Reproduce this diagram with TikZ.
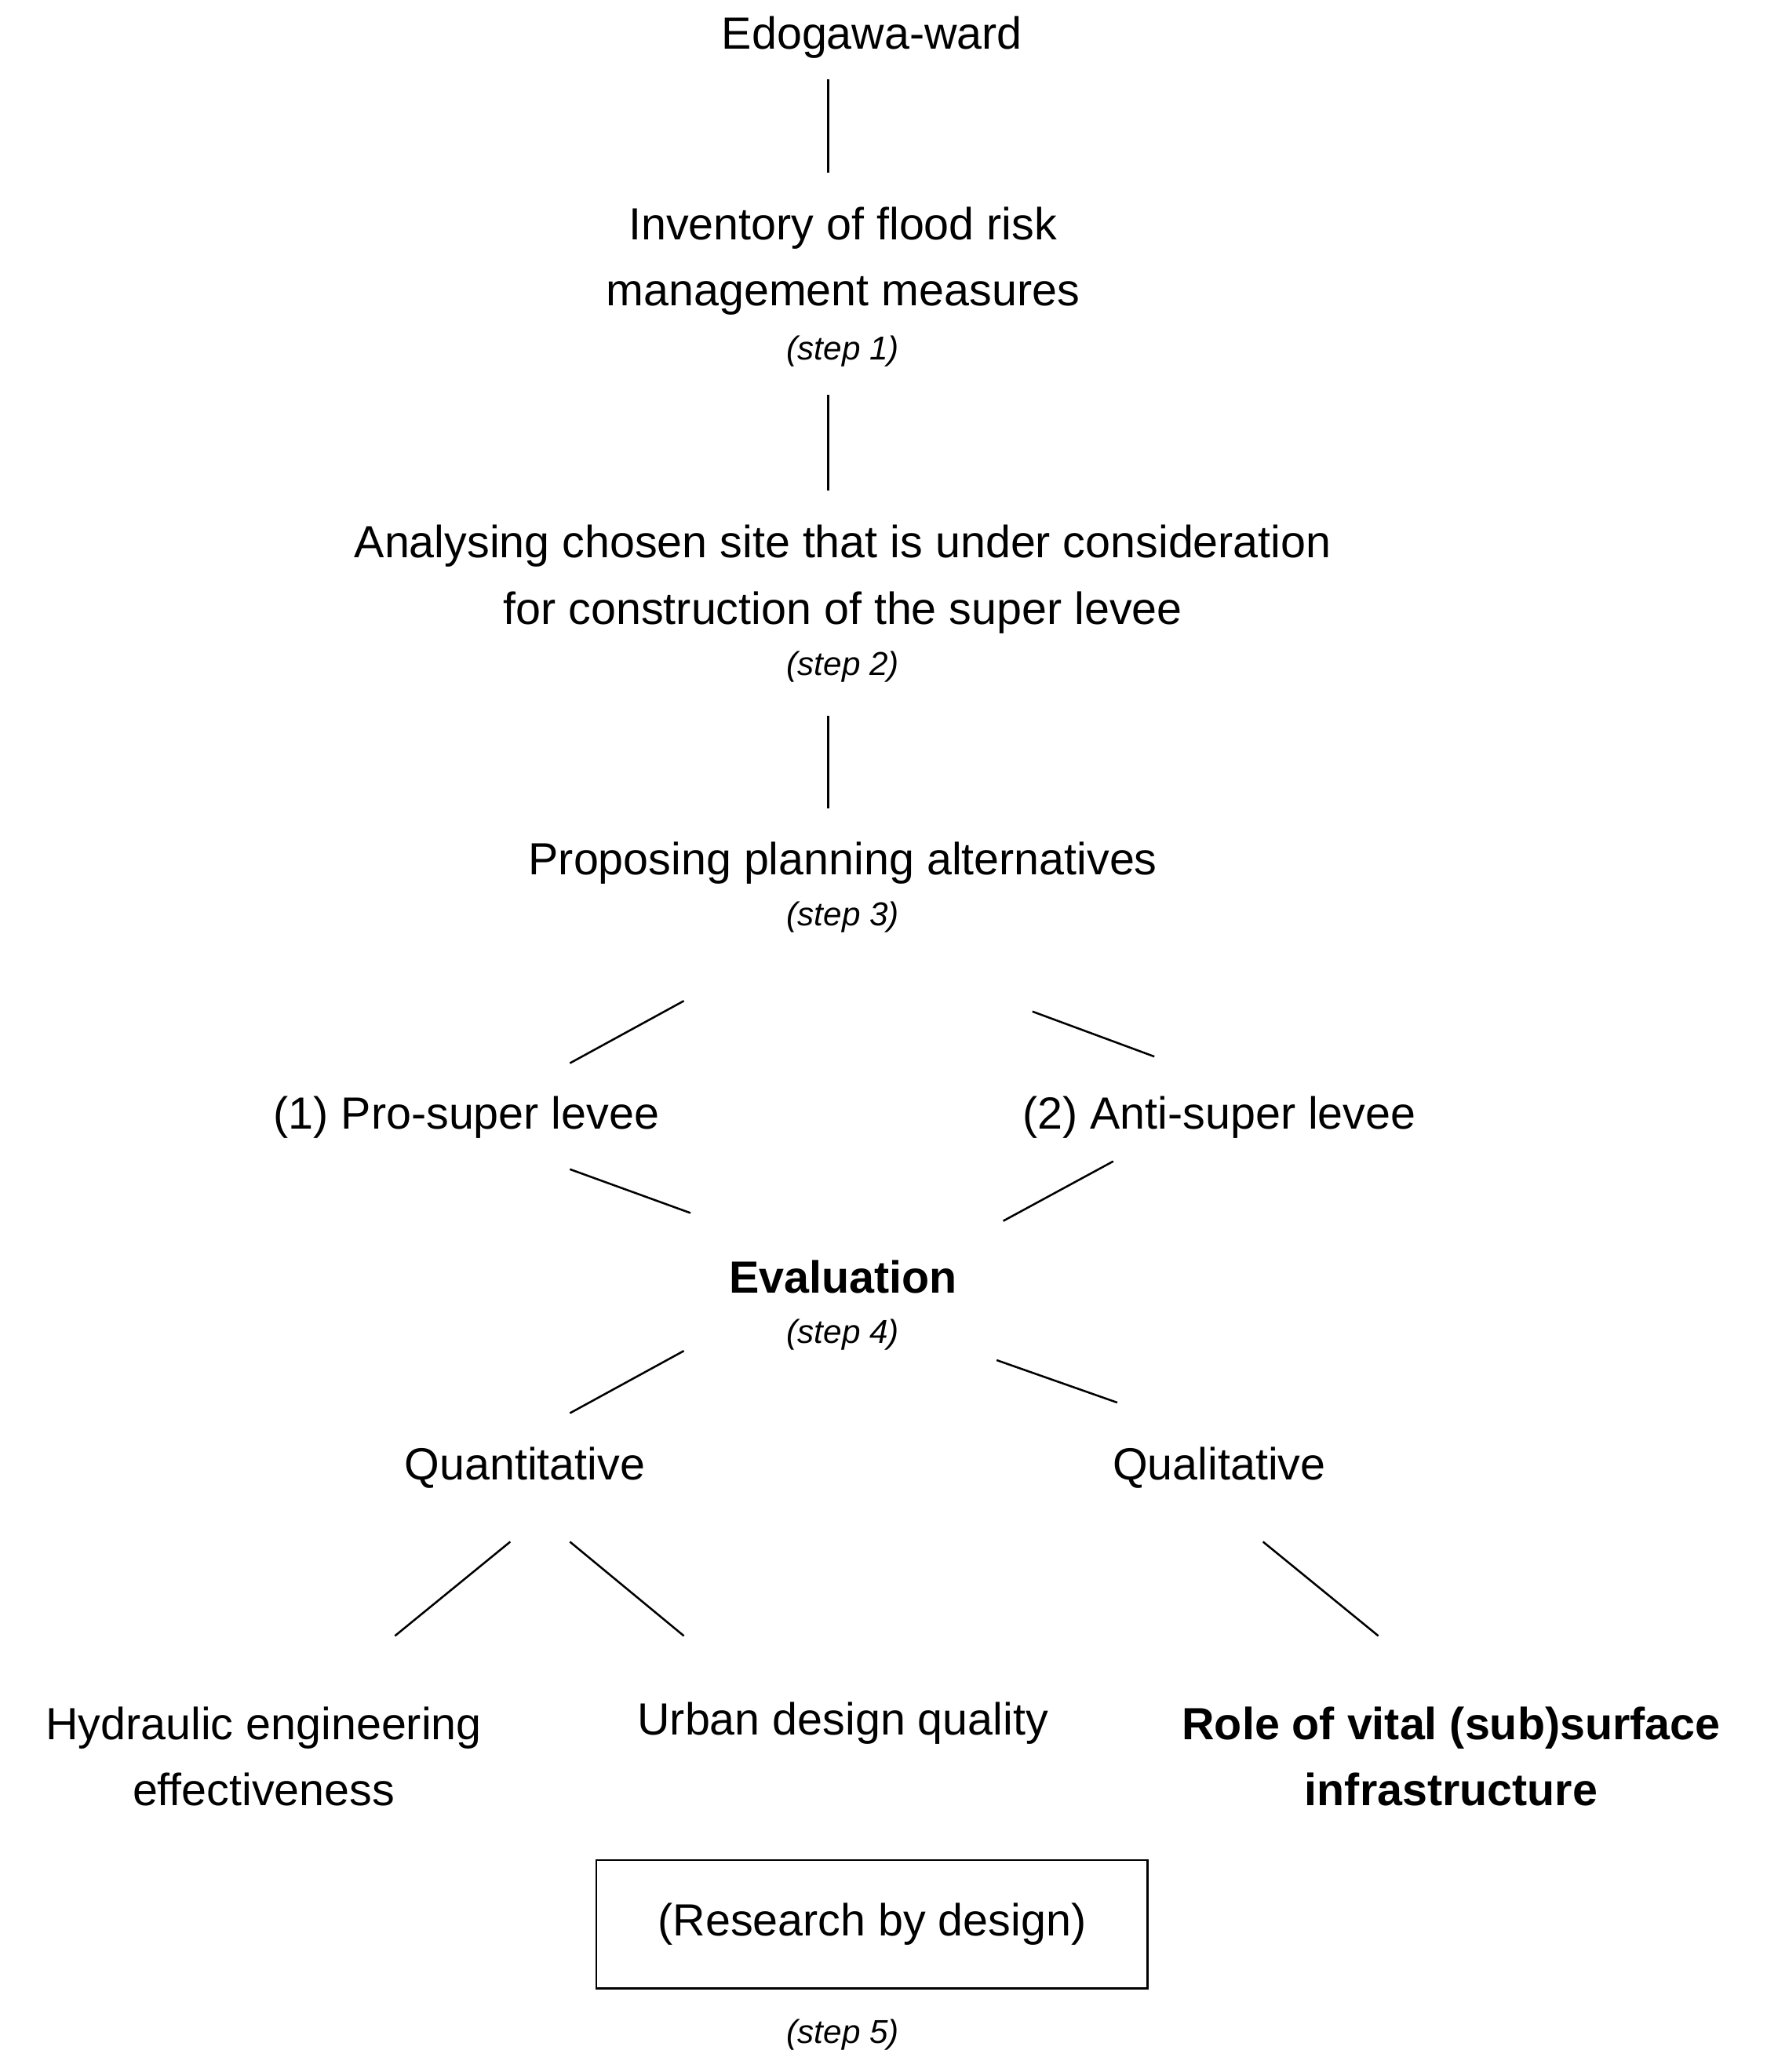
\documentclass[tikz,border=0pt]{standalone}
\usepackage{fontspec}
\setmainfont{Liberation Sans}
\begin{document}
\begin{tikzpicture}[x=1pt,y=-1pt,
  t/.style={font=\fontsize{34}{50}\selectfont,align=center,inner sep=0},
  s/.style={font=\fontsize{25}{30}\selectfont\itshape,inner sep=0},
  ln/.style={line width=1.5pt}]
\useasboundingbox (0,0) rectangle (1333,1563);
\node[t] (edo) at (658,28) {Edogawa-ward};
\node[t] (inv) at (636,197) {Inventory of flood risk\\management measures};
\node[s] (s1) at (636,265) {(step 1)};
\node[t] (ana) at (636,437) {Analysing chosen site that is under consideration\\for construction of the super levee};
\node[s] (s2) at (636,503) {(step 2)};
\node[t] (pro) at (636,651) {Proposing planning alternatives};
\node[s] (s3) at (636,692) {(step 3)};
\node[t] (p1) at (352,843) {(1) Pro-super levee};
\node[t] (p2) at (920,843) {(2) Anti-super levee};
\node[t,font=\fontsize{34}{50}\selectfont\bfseries] (ev) at (636,963) {Evaluation};
\node[s] (s4) at (636,1007) {(step 4)};
\node[t] (qn) at (396,1107) {Quantitative};
\node[t] (ql) at (920,1107) {Qualitative};
\node[t] (hy) at (199,1325) {Hydraulic engineering\\effectiveness};
\node[t] (ur) at (636,1300) {Urban design quality};
\node[t,font=\fontsize{34}{50}\selectfont\bfseries] (ro) at (1095,1325) {Role of vital (sub)surface\\infrastructure};
\node[t,draw,line width=1.5pt,minimum width=416,minimum height=97] (rb) at (658,1451.5) {(Research by design)};
\node[s] (s5) at (636,1535) {(step 5)};
\foreach \n/\a/\b/\c/\d in {a/625/60/625/130, b/625/298/625/370, c/625/540/625/610,
  d/516/755/430/802, e/779/763/871/797, f/430/882/521/915, g/840/876/757/921,
  h/516/1019/430/1066, i/752/1026/843/1058, j/385/1163/298/1234, k/430/1163/516/1234, l/953/1163/1040/1234}
  {\coordinate (\n1) at (\a,\b); \coordinate (\n2) at (\c,\d); \draw[ln] (\n1) -- (\n2);}
\end{tikzpicture}
\end{document}
